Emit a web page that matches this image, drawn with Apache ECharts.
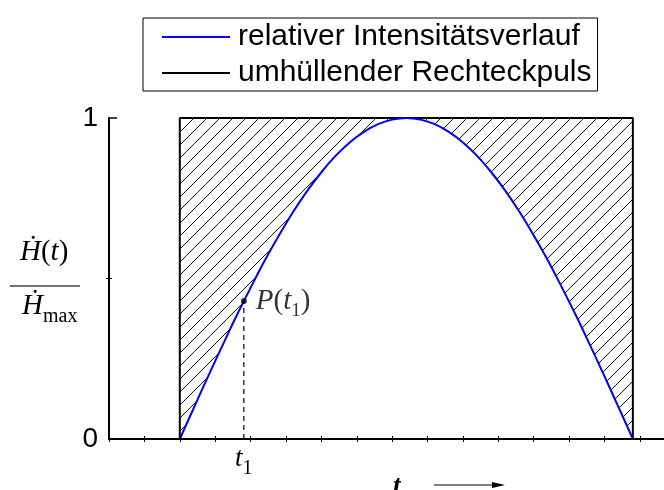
<!DOCTYPE html>
<html><head><meta charset="utf-8">
<script src="https://cdn.jsdelivr.net/npm/echarts@6/dist/echarts.min.js"></script>
<style>html,body{margin:0;padding:0;background:#fff}#c{width:664px;height:490px}</style>
</head><body><div id="c"></div>
<script>
// ---- data ----
const seriesNames = ['relativer Intensitätsverlauf', 'umhüllender Rechteckpuls'];
const curveT = [2.0, 2.4, 2.8, 3.2, 3.6, 4.0, 4.4, 4.8, 5.2, 5.6, 6.0, 6.4, 6.8, 7.2, 7.6, 8.0, 8.4,
                8.8, 9.2, 9.6, 10.0, 10.4, 10.8, 11.2, 11.6, 12.0, 12.4, 12.8, 13.2, 13.6, 14.0, 14.4, 14.8];
const curveValues = [0, 0.098, 0.195, 0.290, 0.383, 0.471, 0.556, 0.634, 0.707, 0.773, 0.831, 0.882, 0.924, 0.957, 0.981, 0.995, 1.000,
                     0.995, 0.981, 0.957, 0.924, 0.882, 0.831, 0.773, 0.707, 0.634, 0.556, 0.471, 0.383, 0.290, 0.195, 0.098, 0];
const pulseT = [2.0, 2.0, 14.8, 14.8];
const pulseValues = [0, 1, 1, 0];
const pointT = [3.81];
const pointValue = [0.43];
const yTickValues = [0, 1];
const yTickLabels = ['0', '1'];
const yMidTick = [0.5];
const xMin = 0, xMax = 15.68;

// ---- hatch pattern ----
function hatch() {
  const s = 13, c = document.createElement('canvas');
  c.width = s; c.height = s;
  const g = c.getContext('2d');
  g.strokeStyle = '#111'; g.lineWidth = 1;
  g.beginPath();
  g.moveTo(0, s); g.lineTo(s, 0);
  g.moveTo(-2, 2); g.lineTo(2, -2);
  g.moveTo(s - 2, s + 2); g.lineTo(s + 2, s - 2);
  g.stroke();
  return c;
}

const serif = "'Liberation Serif','DejaVu Serif',serif";
const sans = "'Liberation Sans',Arial,sans-serif";
const richP = {
  i: {fontFamily: serif, fontStyle: 'italic', fontSize: 29, lineHeight: 40, color: '#000'},
  n: {fontFamily: serif, fontSize: 29, lineHeight: 40, color: '#000'},
  s: {fontFamily: serif, fontSize: 19, lineHeight: 12, verticalAlign: 'bottom', color: '#000'}
};
const richAx = {
  i: {fontFamily: serif, fontStyle: 'italic', fontSize: 27, lineHeight: 40, color: '#000'},
  s: {fontFamily: serif, fontSize: 20, lineHeight: 4, verticalAlign: 'bottom', color: '#000'}
};
const richY = {
  i: {fontFamily: serif, fontStyle: 'italic', fontSize: 29, lineHeight: 40, color: '#000'},
  n: {fontFamily: serif, fontSize: 29, lineHeight: 40, color: '#000'},
  m: {fontFamily: serif, fontSize: 20, lineHeight: 12, verticalAlign: 'bottom', color: '#000'}
};

const chart = echarts.init(document.getElementById('c'), null, {renderer: 'canvas'});
const tickAxisBase = {type: 'value', min: xMin, max: xMax, interval: 1, gridIndex: 0, position: 'bottom'};
const yBase = {type: 'value', min: 0, max: 1, position: 'left', splitLine: {show: false}};

chart.setOption({
  animation: false,
  backgroundColor: '#fff',
  grid: {left: 109, right: 0, top: 118, bottom: 51, outerBoundsMode: 'none'},
  legend: {
    data: seriesNames, orient: 'vertical', left: 143, top: 18,
    icon: 'rect', itemWidth: 68, itemHeight: 2, itemGap: 6,
    padding: [4, 6, 3, 19], borderColor: '#000', borderWidth: 1,
    selectedMode: false,
    textStyle: {fontSize: 30, fontFamily: sans, color: '#000', padding: [0, 0, 0, 3]}
  },
  xAxis: [
    Object.assign({}, tickAxisBase, {
      z: 10, splitLine: {show: false},
      axisLine: {onZero: false, lineStyle: {color: '#000', width: 2}},
      axisTick: {show: true, inside: false, length: 3, lineStyle: {color: '#000'}},
      axisLabel: {show: false}
    }),
    Object.assign({}, tickAxisBase, {
      z: 10, splitLine: {show: false},
      axisLine: {show: false, onZero: false},
      axisTick: {show: true, inside: true, length: 3, lineStyle: {color: '#000'}},
      axisLabel: {show: false}
    }),
    Object.assign({}, tickAxisBase, {
      splitLine: {show: false},
      axisLine: {show: false, onZero: false},
      axisTick: {show: false},
      axisLabel: {show: true, customValues: pointT, margin: 0,
        formatter: () => '{i|t}{s|1}', rich: richAx}
    })
  ],
  yAxis: [
    Object.assign({}, yBase, {z: 10,
     axisLine: {show: true, onZero: false, lineStyle: {color: '#000', width: 2}},
     axisTick: {show: true, inside: true, length: 8, customValues: yTickValues, lineStyle: {color: '#000', width: 1.5}},
     axisLabel: {show: true, customValues: yTickValues, margin: 11, fontSize: 28, fontFamily: sans, color: '#000',
       formatter: v => yTickLabels[yTickValues.indexOf(v)]}}),
    Object.assign({}, yBase, {axisLine: {show: false},
     axisTick: {show: true, inside: false, length: 3, customValues: yMidTick, lineStyle: {color: '#000'}},
     axisLabel: {show: false}}),
    Object.assign({}, yBase, {axisLine: {show: false},
     axisTick: {show: true, inside: true, length: 3, customValues: yMidTick, lineStyle: {color: '#000'}},
     axisLabel: {show: false}})
  ],
  series: [
    {
      name: seriesNames[1], type: 'line', z: 2, symbol: 'none',
      data: pulseT.map((t, k) => [t, pulseValues[k]]),
      itemStyle: {color: '#000'},
      lineStyle: {color: '#000', width: 2},
      areaStyle: {color: {image: hatch(), repeat: 'repeat'}, opacity: 1, origin: 'start'}
    },
    {
      name: seriesNames[0], type: 'line', z: 3, symbol: 'none', smooth: 0.4,
      data: curveT.map((t, k) => [t, curveValues[k]]),
      itemStyle: {color: '#0000ff'},
      lineStyle: {color: '#0000ff', width: 2},
      areaStyle: {color: '#fff', opacity: 1, origin: 'start'}
    },
    {
      name: 'drop', type: 'line', z: 4, symbol: 'none',
      data: [[pointT[0], 0], [pointT[0], pointValue[0]]],
      lineStyle: {color: '#000', width: 1.2, type: [5, 4]}
    },
    {
      name: 'P', type: 'scatter', z: 5, symbolSize: 6,
      data: pointT.map((t, k) => [t, pointValue[k]]),
      itemStyle: {color: '#000'},
      label: {show: true, position: 'right', distance: 9,
        formatter: () => '{i|P}{n|(}{i|t}{s|1}{n|)}', rich: richP}
    }
  ],
  graphic: [
    {type: 'text', left: 20, top: 238, z: 20,
     style: {text: '{i|Ḣ}{n|(}{i|t}{n|)}', rich: richY}},
    {type: 'line', z: 20, shape: {x1: 10, y1: 286, x2: 80, y2: 286},
     style: {stroke: '#444', lineWidth: 1.5}},
    {type: 'text', left: 22, top: 292, z: 20,
     style: {text: '{i|Ḣ}{m|max}', rich: richY}},
    {type: 'text', z: 20, x: 393, y: 487,
     style: {text: 't', font: "italic bold 27px " + serif, fill: '#000', verticalAlign: 'middle'}},
    {type: 'line', z: 20, shape: {x1: 434, y1: 485, x2: 494, y2: 485},
     style: {stroke: '#000', lineWidth: 1.2}},
    {type: 'polygon', z: 20, shape: {points: [[492, 482], [505, 485], [492, 488]]},
     style: {fill: '#000'}}
  ]
});
</script>
</body></html>
